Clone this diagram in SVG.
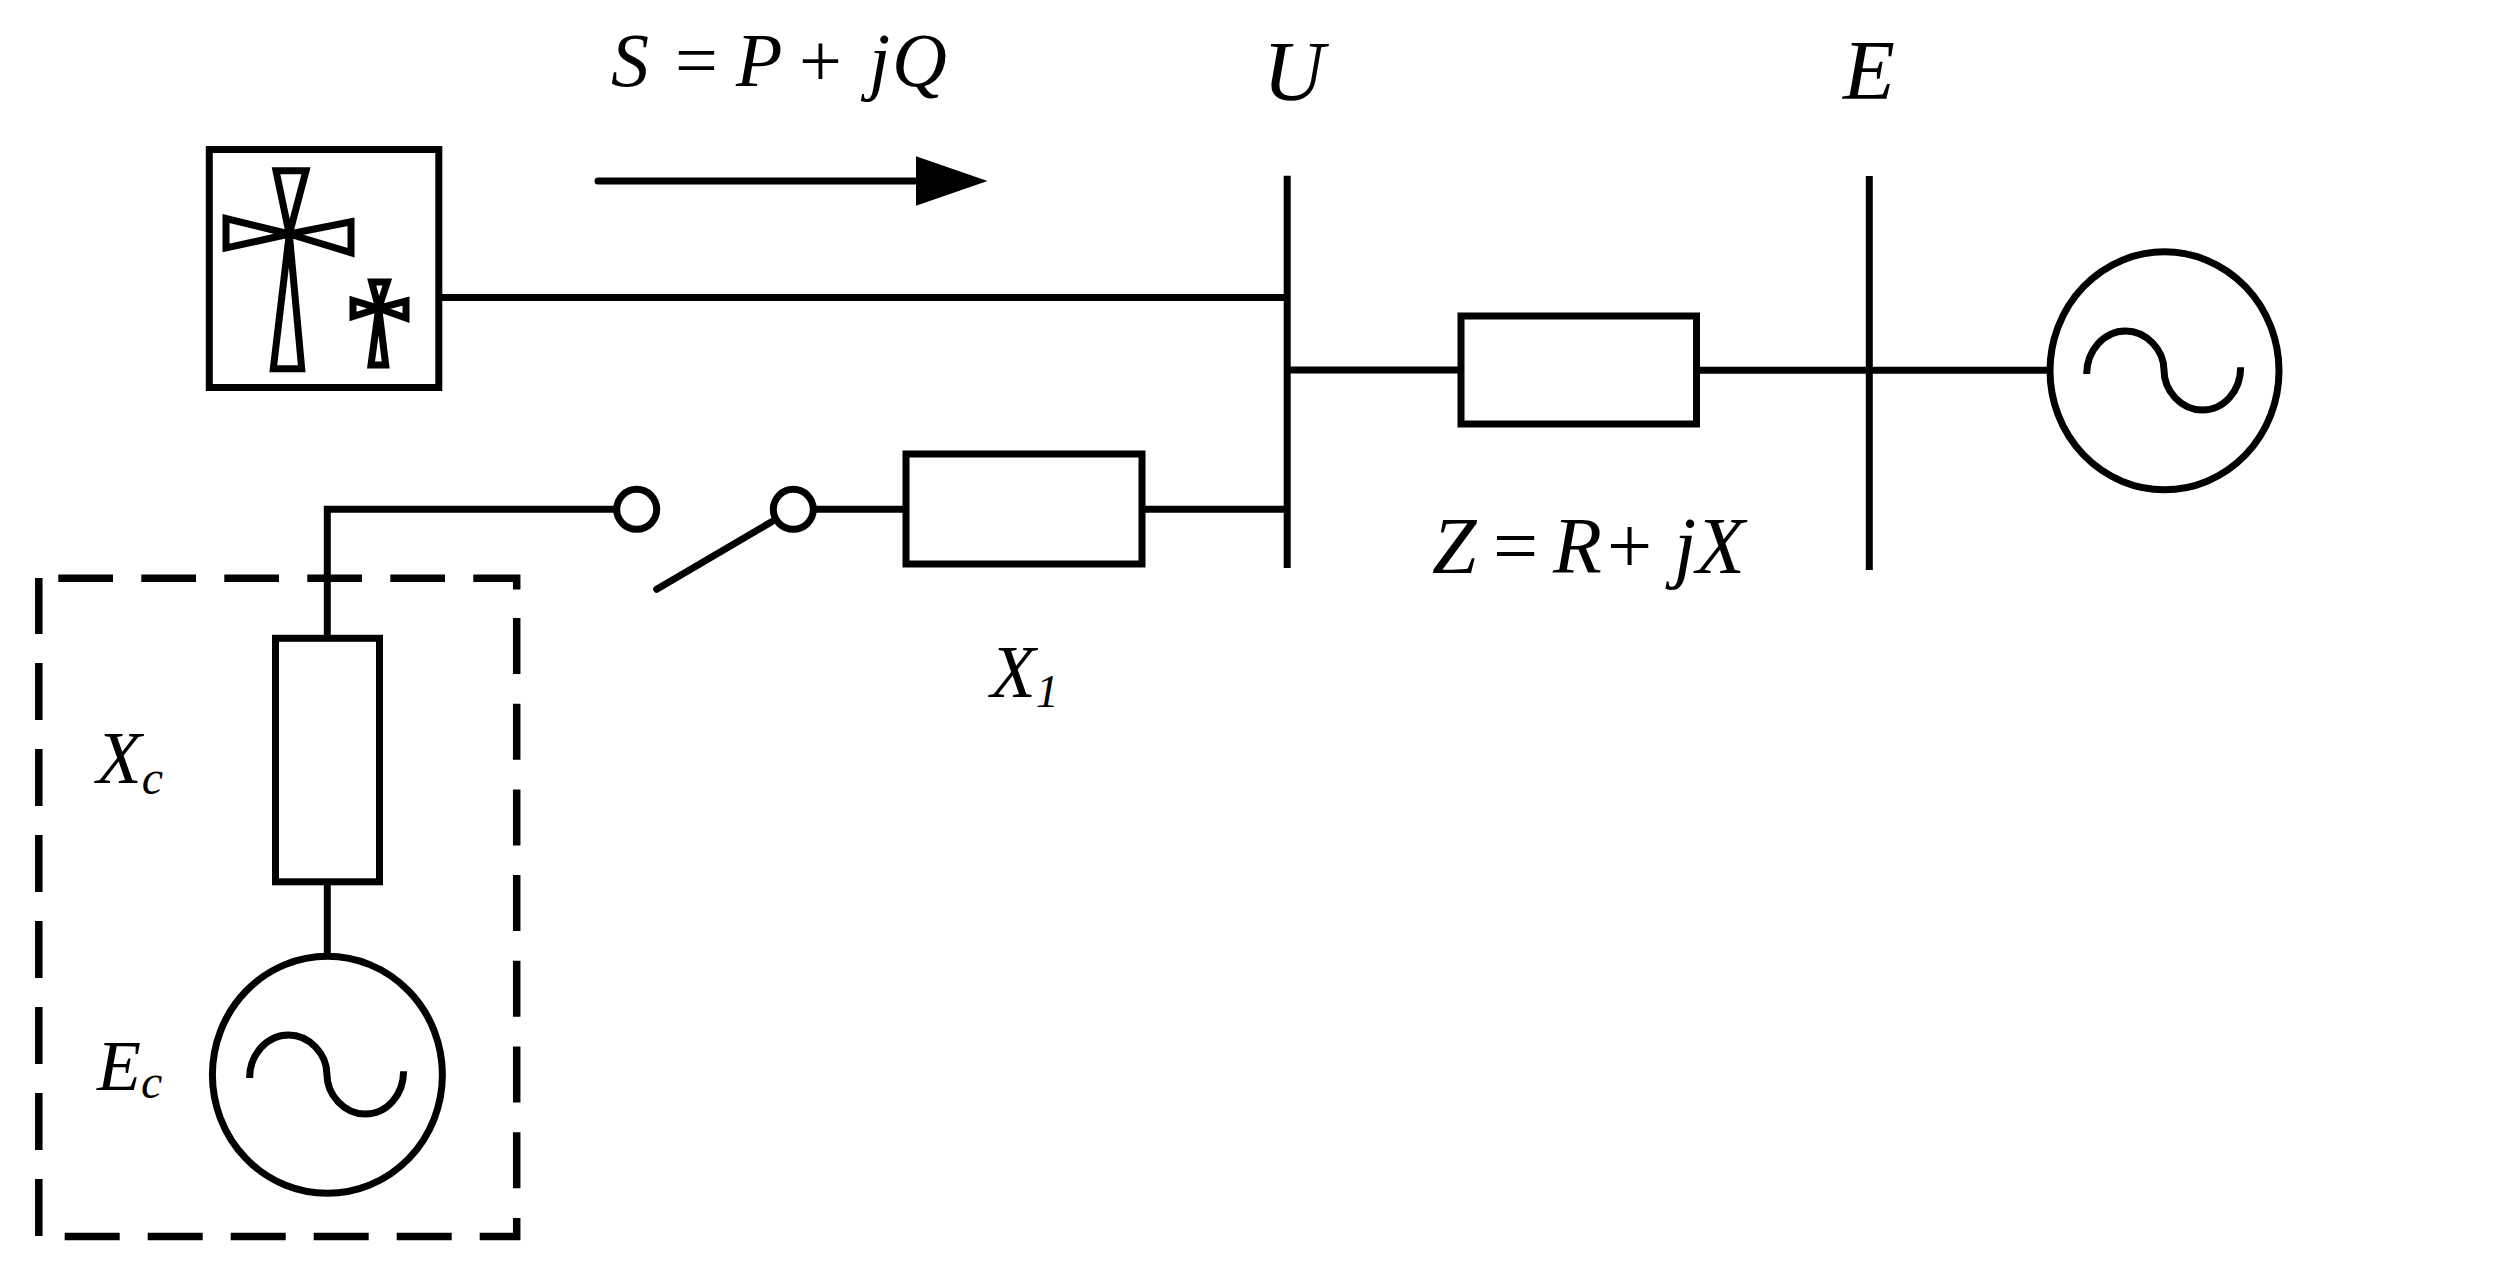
<svg xmlns="http://www.w3.org/2000/svg" width="2496" height="1275" viewBox="0 0 2496 1275">
<style>
.s{fill:none;stroke:#000;stroke-width:7}
.w{fill:#fff;stroke:#000;stroke-width:7}
.d{fill:none;stroke:#000;stroke-width:7.5}
.t{font-family:"Liberation Serif","Times New Roman",serif;font-style:italic;fill:#000}
.u{font-style:normal}
</style>
<defs>
<marker id="head" markerUnits="userSpaceOnUse" markerWidth="72" markerHeight="50" refX="0" refY="25" orient="auto"><polygon points="0,0 72,25 0,50" fill="#000"/></marker>
<path id="sine" class="s" d="M-77.8 3.2C-77.8 -20.5 -60.3 -39.8 -39 -39.8C-17.7 -39.8 -0.5 -20.5 -0.5 -0.8C-0.5 20 16.7 39.2 38 39.2C59.5 39.2 76.2 20 76.2 -3.5"/>
</defs>
<rect width="2496" height="1275" fill="#fff"/>
<g id="connectors" class="s">
<path d="M442 297.5H1287"/>
<path d="M1287 370H1461M1696 370.3H2047"/>
<path d="M327.3 509.3H617M327.3 505.8V638.5M327.3 881.5V956"/>
<path d="M813 509.3H906M1142 509.3H1287"/>
<path d="M1287.2 175.7V568"/>
<path d="M1869.3 176V570"/>
<path d="M656.7 589.3L771.7 521.7" stroke-linecap="round"/>
</g>
<g id="power-arrow"><path class="s" d="M598 181H915.5" stroke-linecap="round" marker-end="url(#head)"/></g>
<g id="wind-farm">
<rect class="s" x="209.3" y="149.5" width="229.5" height="238"/>
<path class="s" d="M276 170.7H306L289.3 234ZM226 218.5V248L289.3 234ZM351 221.7V252.7L289.3 234ZM273.3 368.7H301.7L289.3 234Z"/>
<path class="s" d="M371.7 282H387.3L378.7 308.3ZM353 300.5V316.5L378.7 308.3ZM406 301V318L378.7 308.3ZM371 365H385.7L378.7 308.3Z"/>
</g>
<g id="switch">
<circle class="w" cx="636.7" cy="509.3" r="20"/>
<circle class="w" cx="793.3" cy="509.3" r="20"/>
</g>
<g id="x1-impedance"><rect class="w" x="906" y="454" width="236" height="110"/></g>
<g id="line-impedance"><rect class="w" x="1461" y="316" width="235.5" height="108"/></g>
<g id="grid-source">
<ellipse class="w" cx="2164.5" cy="370.8" rx="114.5" ry="119"/>
<use href="#sine" x="2164.5" y="370.8"/>
</g>
<g id="compensator">
<path class="d" stroke-dasharray="54.7 28.3" d="M58.3 578.3H516.7V590"/>
<path class="d" stroke-dasharray="56 29.7" d="M516.7 618V1236.5H479.7"/>
<path class="d" stroke-dasharray="55 28" d="M451.7 1236.5H38.7"/>
<path class="d" stroke-dasharray="57 29" d="M38.8 1236V578"/>
<rect class="w" x="275.5" y="638.3" width="104" height="243.5"/>
<ellipse class="w" cx="327.4" cy="1074.8" rx="115" ry="118.5"/>
<use href="#sine" x="327.4" y="1074.8"/>
</g>
<g id="labels">
<text class="t" y="86" font-size="76"><tspan x="611">S </tspan><tspan x="675" class="u">= </tspan><tspan x="736">P </tspan><tspan x="799" class="u">+ </tspan><tspan x="869">j</tspan><tspan x="892">Q</tspan></text>
<text class="t" x="1263" y="99.5" font-size="85">U</text>
<text class="t" x="1843" y="99" font-size="85">E</text>
<text class="t" y="573" font-size="80" style="word-spacing:-16px"><tspan x="1432">Z </tspan><tspan x="1493" class="u">= </tspan><tspan x="1553">R</tspan><tspan x="1607" class="u">+ </tspan><tspan x="1674">j</tspan><tspan x="1696">X</tspan></text>
<text class="t" x="990.5" y="697" font-size="74">X<tspan font-size="46" dy="10">1</tspan></text>
<text class="t" x="96.5" y="783" font-size="74">X<tspan font-size="48" dy="11">c</tspan></text>
<text class="t" x="97" y="1090" font-size="72">E<tspan font-size="48" dy="8">c</tspan></text>
</g>
</svg>
